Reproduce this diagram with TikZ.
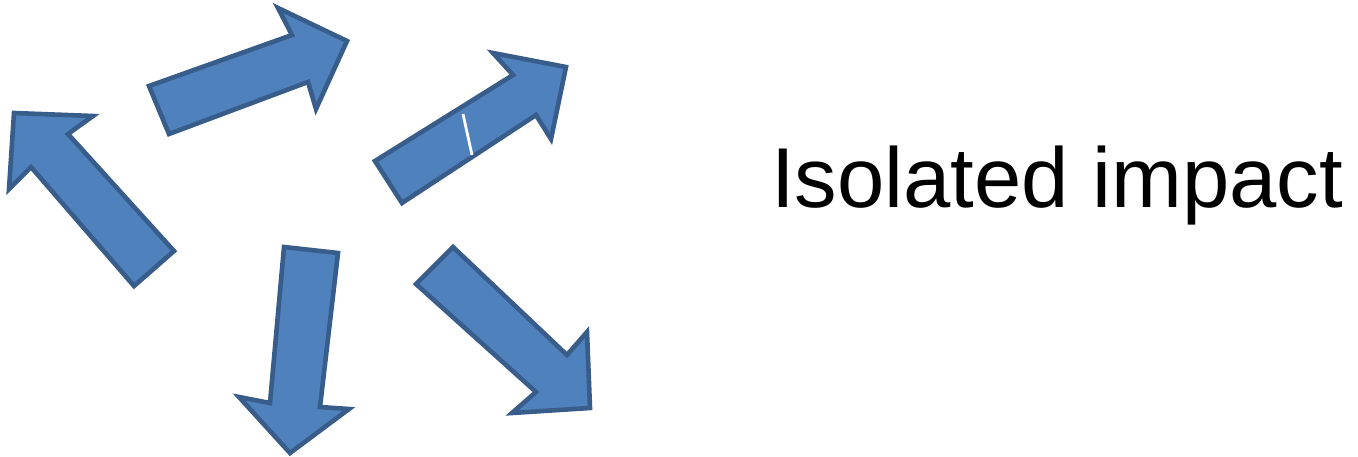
\documentclass[tikz,border=0pt]{standalone}
\usepackage{fontspec}
\setmainfont{Liberation Sans}
\begin{document}
\begin{tikzpicture}[x=1pt,y=-1pt,
  blockarrow/.style={fill={rgb,255:red,79;green,129;blue,189},
    draw={rgb,255:red,56;green,93;blue,138}, line width=4.6pt, line join=miter},
  label/.style={inner sep=0pt, anchor=base west, font=\fontsize{85}{100}\selectfont}]
\useasboundingbox (0,0) rectangle (1358,456);
% upper-left arrow
\path[blockarrow] (174,251) -- (68,134) -- (93,116) -- (14,113) -- (9,189)
  -- (31,167) -- (134,286) -- cycle;
% top arrow pointing right
\path[blockarrow] (149,86) -- (292,35) -- (278,8) -- (347,41) -- (316,109)
  -- (308,82) -- (169,134) -- cycle;
% arrow pointing up-right
\path[blockarrow] (375,161) -- (513,75) -- (493,53) -- (566,67) -- (551,139)
  -- (536,115) -- (402,203) -- cycle;
\draw[white, line width=2.8pt] (463,114) -- (472,155);
% downward arrow
\path[blockarrow] (284,247) -- (338,253) -- (320,407) -- (349,409) -- (290,453)
  -- (239,397) -- (270,403) -- cycle;
% arrow pointing down-right
\path[blockarrow] (453,247) -- (567,355) -- (587,332) -- (590,408) -- (512,413)
  -- (536,392) -- (416,284) -- cycle;
% caption
\node[label] (caption) at (771,207) {Isolated impact};
\end{tikzpicture}
\end{document}
